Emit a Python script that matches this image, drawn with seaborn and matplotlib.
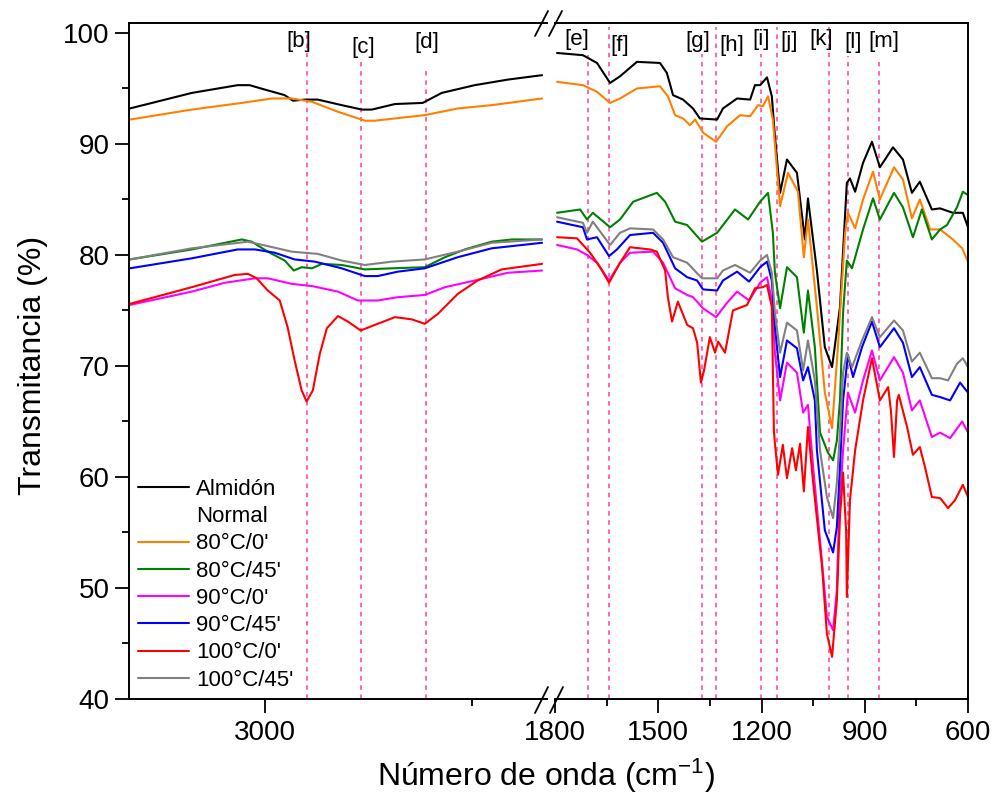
import matplotlib
matplotlib.use('Agg')
import matplotlib.pyplot as plt
from matplotlib.lines import Line2D
from matplotlib.ticker import MultipleLocator, FixedLocator
import seaborn as sns
import pandas as pd

sns.set_theme(style='ticks')
plt.rcParams['font.family'] = ['Liberation Sans', 'DejaVu Sans']
plt.rcParams['mathtext.fontset'] = 'custom'
plt.rcParams['mathtext.rm'] = 'Liberation Sans'
plt.rcParams['mathtext.it'] = 'Liberation Sans:italic'
for k in ['text.color', 'axes.labelcolor', 'xtick.color', 'ytick.color', 'axes.edgecolor']:
    plt.rcParams[k] = 'black'

SERIES = ["Almidón Normal", "80°C/0'", "80°C/45'", "90°C/0'", "90°C/45'", "100°C/0'", "100°C/45'"]
COLORS = ['#000000', '#FF8000', '#008000', '#FF00FF', '#0000FF', '#FF0000', '#808080']

# ---------------- left panel (high wavenumber) ----------------
L_BLACK_WN = [3328, 3178, 3067, 3038, 3001, 2953, 2933, 2904, 2873, 2815, 2766, 2742, 2686, 2619, 2573, 2493, 2413, 2330]
L_BLACK_T = [93.2, 94.6, 95.3, 95.3, 94.9, 94.4, 93.9, 94.0, 94.0, 93.5, 93.1, 93.1, 93.6, 93.7, 94.6, 95.3, 95.8, 96.2]
L_ORANGE_WN = [3328, 3178, 3057, 2984, 2936, 2887, 2824, 2759, 2735, 2614, 2534, 2452, 2330]
L_ORANGE_T = [92.2, 93.1, 93.7, 94.1, 94.1, 93.8, 92.9, 92.1, 92.1, 92.6, 93.2, 93.5, 94.1]
L_GREEN_WN = [3328, 3178, 3057, 3033, 2994, 2953, 2931, 2912, 2887, 2863, 2815, 2759, 2694, 2614, 2565, 2517, 2452, 2403, 2330]
L_GREEN_T = [79.6, 80.5, 81.4, 81.2, 80.3, 79.5, 78.6, 78.9, 78.8, 79.2, 79.1, 78.7, 78.8, 78.9, 79.8, 80.5, 81.2, 81.4, 81.4]
L_MAGENTA_WN = [3328, 3178, 3098, 3025, 2994, 2936, 2887, 2824, 2776, 2728, 2679, 2614, 2565, 2493, 2413, 2330]
L_MAGENTA_T = [75.5, 76.7, 77.5, 77.9, 77.9, 77.4, 77.2, 76.7, 75.9, 75.9, 76.2, 76.4, 77.1, 77.7, 78.4, 78.6]
L_BLUE_WN = [3328, 3178, 3067, 3025, 2977, 2929, 2880, 2815, 2759, 2728, 2679, 2614, 2534, 2452, 2330]
L_BLUE_T = [78.8, 79.7, 80.5, 80.5, 80.2, 79.6, 79.4, 78.8, 78.1, 78.1, 78.5, 78.8, 79.8, 80.6, 81.1]
L_RED_WN = [3328, 3178, 3074, 3042, 3021, 2994, 2965, 2946, 2929, 2912, 2900, 2885, 2868, 2851, 2824, 2800, 2769, 2728, 2686, 2645, 2614, 2582, 2534, 2486, 2428, 2330]
L_RED_T = [75.6, 77.1, 78.2, 78.3, 77.9, 76.8, 75.9, 73.5, 70.5, 67.8, 66.8, 67.8, 71.1, 73.4, 74.5, 74.0, 73.2, 73.8, 74.4, 74.2, 73.8, 74.7, 76.5, 77.7, 78.7, 79.2]
L_GRAY_WN = [3328, 3178, 3042, 2994, 2936, 2873, 2815, 2759, 2694, 2614, 2534, 2452, 2330]
L_GRAY_T = [79.6, 80.6, 81.2, 80.8, 80.3, 80.1, 79.5, 79.1, 79.4, 79.6, 80.3, 81.1, 81.4]

# ---------------- right panel (fingerprint region) ----------------
R_BLACK_WN = [1794, 1719, 1678, 1640, 1611, 1562, 1495, 1475, 1457, 1428, 1399, 1379, 1329, 1312, 1271, 1233, 1219, 1204, 1184, 1170, 1161, 1146, 1126, 1097, 1074, 1065, 1039, 1016, 995, 972, 952, 943, 928, 905, 879, 856, 818, 789, 763, 740, 705, 681, 644, 615, 600]
R_BLACK_T = [98.2, 98.0, 97.3, 95.5, 96.1, 97.4, 97.3, 96.4, 94.4, 94.0, 93.2, 92.3, 92.2, 93.2, 94.1, 94.0, 95.3, 95.3, 96.0, 94.3, 90.7, 85.6, 88.6, 87.4, 81.4, 85.1, 78.6, 71.7, 69.9, 75.3, 86.5, 86.9, 85.7, 88.3, 90.2, 87.9, 89.7, 88.6, 85.6, 86.6, 84.1, 84.2, 83.8, 83.8, 82.5]
R_ORANGE_WN = [1794, 1719, 1678, 1640, 1611, 1562, 1495, 1472, 1451, 1428, 1408, 1393, 1369, 1332, 1300, 1262, 1233, 1210, 1196, 1181, 1167, 1155, 1146, 1123, 1094, 1077, 1065, 1039, 1016, 995, 978, 957, 949, 928, 905, 876, 856, 815, 789, 763, 740, 710, 681, 644, 617, 600]
R_ORANGE_T = [95.6, 95.3, 94.7, 93.7, 94.1, 95.0, 95.2, 94.3, 92.6, 92.3, 91.7, 92.2, 91.0, 90.2, 91.6, 92.6, 92.5, 93.5, 93.4, 94.3, 92.2, 87.7, 84.4, 87.4, 85.7, 79.8, 83.2, 75.3, 67.6, 64.4, 71.7, 82.0, 83.8, 82.4, 85.0, 87.5, 85.0, 87.9, 86.8, 83.3, 85.0, 82.3, 82.3, 81.4, 80.6, 79.4]
R_GREEN_WN = [1794, 1727, 1707, 1690, 1640, 1611, 1573, 1504, 1480, 1451, 1416, 1373, 1329, 1277, 1239, 1204, 1181, 1167, 1161, 1146, 1126, 1097, 1077, 1065, 1045, 1030, 1007, 992, 981, 972, 963, 952, 937, 905, 876, 856, 815, 789, 760, 734, 705, 681, 661, 632, 615, 600]
R_GREEN_T = [83.8, 84.1, 83.2, 83.8, 82.5, 83.2, 84.8, 85.6, 84.8, 83.0, 82.7, 81.2, 82.0, 84.1, 83.2, 84.8, 85.6, 82.0, 78.4, 75.2, 78.9, 78.0, 73.0, 76.8, 71.7, 64.0, 62.2, 61.5, 63.3, 66.9, 74.8, 79.5, 78.8, 82.3, 85.1, 83.2, 85.6, 84.3, 81.6, 84.1, 81.4, 82.3, 82.7, 84.3, 85.7, 85.4]
R_MAGENTA_WN = [1794, 1736, 1707, 1678, 1643, 1611, 1582, 1515, 1486, 1451, 1416, 1399, 1370, 1332, 1300, 1271, 1236, 1204, 1184, 1170, 1161, 1146, 1126, 1097, 1079, 1065, 1050, 1030, 1010, 992, 981, 975, 963, 949, 928, 905, 879, 856, 815, 789, 763, 740, 705, 681, 652, 617, 600]
R_MAGENTA_T = [80.9, 80.5, 80.0, 79.3, 77.7, 79.3, 80.2, 80.3, 79.3, 77.0, 76.4, 76.2, 75.2, 74.4, 75.7, 76.7, 75.9, 77.5, 78.0, 75.9, 71.2, 66.9, 70.3, 69.4, 65.8, 66.5, 60.9, 54.3, 47.4, 46.2, 49.8, 56.4, 62.4, 67.6, 65.8, 68.7, 71.4, 68.7, 70.8, 69.4, 66.0, 66.9, 63.6, 64.0, 63.5, 65.0, 64.0]
R_BLUE_WN = [1794, 1719, 1707, 1678, 1643, 1620, 1582, 1515, 1486, 1451, 1416, 1387, 1370, 1329, 1312, 1271, 1236, 1204, 1184, 1170, 1161, 1146, 1126, 1097, 1079, 1065, 1045, 1039, 1016, 992, 981, 972, 963, 949, 934, 908, 879, 856, 815, 789, 763, 740, 705, 681, 652, 623, 600]
R_BLUE_T = [83.0, 82.5, 81.4, 81.6, 79.9, 80.5, 81.8, 82.0, 81.1, 78.8, 78.0, 77.7, 76.9, 76.8, 77.7, 78.5, 77.6, 78.9, 79.4, 77.7, 73.5, 69.0, 72.3, 71.6, 68.7, 69.9, 66.9, 62.4, 55.2, 53.2, 55.5, 60.9, 66.9, 71.0, 69.0, 71.7, 74.0, 71.7, 73.4, 72.1, 69.0, 69.9, 67.4, 67.2, 66.9, 68.5, 67.6]
R_RED_WN = [1794, 1736, 1698, 1669, 1643, 1611, 1582, 1524, 1504, 1480, 1472, 1460, 1443, 1416, 1399, 1387, 1376, 1367, 1350, 1335, 1326, 1306, 1283, 1242, 1219, 1196, 1184, 1170, 1164, 1161, 1152, 1138, 1126, 1111, 1100, 1088, 1077, 1065, 1050, 1024, 1010, 995, 981, 972, 963, 954, 952, 943, 928, 905, 879, 856, 832, 824, 815, 806, 801, 777, 760, 740, 725, 705, 681, 658, 638, 615, 600]
R_RED_T = [81.6, 81.5, 80.2, 78.9, 77.5, 79.3, 80.7, 80.5, 80.3, 78.6, 76.2, 74.0, 75.8, 73.7, 73.4, 72.1, 68.5, 69.6, 72.6, 71.2, 72.2, 71.2, 75.0, 75.5, 77.0, 77.1, 77.3, 75.3, 64.2, 63.0, 60.2, 62.9, 59.9, 62.6, 60.6, 63.0, 58.7, 64.5, 59.5, 51.9, 45.9, 43.8, 48.9, 56.4, 60.4, 55.0, 49.2, 57.9, 62.4, 66.9, 70.7, 66.9, 68.1, 66.0, 61.8, 66.9, 67.4, 64.5, 62.0, 62.7, 60.9, 58.2, 58.1, 57.2, 57.9, 59.3, 58.2]
R_GRAY_WN = [1794, 1719, 1707, 1690, 1640, 1611, 1582, 1515, 1486, 1457, 1416, 1373, 1329, 1312, 1277, 1233, 1204, 1184, 1170, 1161, 1146, 1126, 1097, 1079, 1065, 1045, 1030, 1010, 992, 981, 972, 963, 952, 937, 908, 879, 856, 815, 789, 763, 740, 705, 681, 658, 632, 615, 600]
R_GRAY_T = [83.4, 82.9, 82.0, 83.0, 80.9, 82.0, 82.4, 82.3, 81.4, 79.8, 79.3, 77.9, 77.9, 78.6, 79.1, 78.4, 79.5, 80.0, 78.4, 74.8, 71.2, 73.9, 73.2, 69.6, 72.3, 68.7, 62.4, 58.2, 56.3, 59.5, 64.0, 69.4, 71.2, 69.9, 72.3, 74.4, 72.6, 74.1, 73.2, 70.4, 71.2, 68.9, 68.9, 68.7, 70.2, 70.7, 69.9]

# band markers
L_BAND_WN = [2900, 2768, 2612]
L_BAND_TOP = [99.8, 97.4, 96.9]
L_BAND_LABELS = ['[b]', '[c]', '[d]']
L_LABEL_WN = [2919, 2764, 2609]
L_LABEL_T = [99.2, 98.7, 99.1]

R_BAND_WN = [1704, 1642, 1374, 1333, 1201, 1154, 1003, 948, 859]
R_BAND_TOP = [98.0, 100.5, 98.1, 100.5, 98.1, 100.5, 100.5, 97.9, 97.6]
R_BAND_LABELS = ['[e]', '[f]', '[g]', '[h]', '[i]', '[j]', '[k]', '[l]', '[m]']
R_LABEL_WN = [1736, 1611, 1385, 1286, 1201, 1120, 1027, 934, 844]
R_LABEL_T = [99.4, 98.9, 99.2, 98.9, 99.4, 99.2, 99.4, 99.1, 99.2]

LEFT = [(L_BLACK_WN, L_BLACK_T), (L_ORANGE_WN, L_ORANGE_T), (L_GREEN_WN, L_GREEN_T),
        (L_MAGENTA_WN, L_MAGENTA_T), (L_BLUE_WN, L_BLUE_T), (L_RED_WN, L_RED_T), (L_GRAY_WN, L_GRAY_T)]
RIGHT = [(R_BLACK_WN, R_BLACK_T), (R_ORANGE_WN, R_ORANGE_T), (R_GREEN_WN, R_GREEN_T),
         (R_MAGENTA_WN, R_MAGENTA_T), (R_BLUE_WN, R_BLUE_T), (R_RED_WN, R_RED_T), (R_GRAY_WN, R_GRAY_T)]


def long_df(pairs):
    rows = []
    for name, (wn, t) in zip(SERIES, pairs):
        for a, b in zip(wn, t):
            rows.append({'wn': a, 'T': b, 'serie': name})
    return pd.DataFrame(rows)


W, H = 993, 800
fig = plt.figure(figsize=(W / 100, H / 100), dpi=100)
fig.patch.set_facecolor('white')


def fx(px):
    return px / W


def fy(py):
    return 1 - py / H


ax_l = fig.add_axes([fx(129), fy(699), fx(547) - fx(129), fy(23) - fy(699)])
ax_r = fig.add_axes([fx(555), fy(699), fx(968) - fx(555), fy(23) - fy(699)])

palette = dict(zip(SERIES, COLORS))
DASH = '#FF3D9E'

for ax, pairs, bwn, btop, blab, lwn, lt in [
        (ax_l, LEFT, L_BAND_WN, L_BAND_TOP, L_BAND_LABELS, L_LABEL_WN, L_LABEL_T),
        (ax_r, RIGHT, R_BAND_WN, R_BAND_TOP, R_BAND_LABELS, R_LABEL_WN, R_LABEL_T)]:
    ax.set_facecolor('white')
    ax.vlines(bwn, 40, btop, colors=DASH, linestyles=(0, (3, 3)), lw=1.1, zorder=1)
    sns.lineplot(data=long_df(pairs), x='wn', y='T', hue='serie', hue_order=SERIES,
                 palette=palette, estimator=None, sort=False, legend=False, lw=1.5, ax=ax, zorder=2)
    for x, y, s in zip(lwn, lt, blab):
        ax.text(x, y, s, ha='center', va='center', fontsize=16, color='black')
    ax.set_ylim(40, 100.9)
    ax.set_xlabel('')
    ax.set_ylabel('')
    for sp in ax.spines.values():
        sp.set_linewidth(1.4)
        sp.set_color('black')
    ax.tick_params(axis='both', which='major', length=10, width=1.3, direction='out',
                   labelsize=20, color='black', labelcolor='black', pad=5)
    ax.tick_params(axis='both', which='minor', length=5, width=1.3, direction='out', color='black')

ax_l.set_xlim(3330, 2318)
ax_l.xaxis.set_major_locator(FixedLocator([3000]))
ax_l.xaxis.set_minor_locator(FixedLocator([2500]))
ax_l.yaxis.set_major_locator(MultipleLocator(10))
ax_l.yaxis.set_minor_locator(MultipleLocator(5))
ax_l.spines['right'].set_visible(False)
ax_l.tick_params(axis='y', which='major', pad=4)

ax_r.set_xlim(1800, 600)
ax_r.xaxis.set_major_locator(FixedLocator([1800, 1500, 1200, 900, 600]))
ax_r.xaxis.set_minor_locator(FixedLocator([1650, 1350, 1050, 750]))
ax_r.spines['left'].set_visible(False)
ax_r.tick_params(axis='y', which='both', left=False, right=False, labelleft=False)

# legend
handles = [Line2D([], [], color=COLORS[0], lw=1.5), Line2D([], [], color='none', lw=0)]
labels = ['Almidón', 'Normal']
for c, s in zip(COLORS[1:], SERIES[1:]):
    handles.append(Line2D([], [], color=c, lw=1.5))
    labels.append(s)
leg = ax_l.legend(handles, labels, loc='upper left', bbox_to_anchor=(0.011, 0.332), frameon=False,
                  fontsize=16, handlelength=2.3, handletextpad=0.3, labelspacing=0.28,
                  borderpad=0.2, borderaxespad=0)
for t in leg.get_texts():
    t.set_color('black')

# axis break marks
for (x0, y0, x1, y1) in [(535, 713, 548, 687), (550, 713, 563, 687),
                         (535, 36, 548, 11), (549, 36, 562, 11)]:
    fig.add_artist(Line2D([fx(x0), fx(x1)], [fy(y0), fy(y1)], transform=fig.transFigure,
                          color='black', lw=1.3))

fig.text(fx(33), fy(365), 'Transmitancia (%)', rotation=90, ha='center', va='center',
         fontsize=23, color='black')
fig.text(fx(546), fy(776), r'Número de onda (cm$^{\mathregular{-1}}$)', ha='center', va='center',
         fontsize=23, color='black')

fig.savefig('out.png', dpi=100, facecolor='white')
